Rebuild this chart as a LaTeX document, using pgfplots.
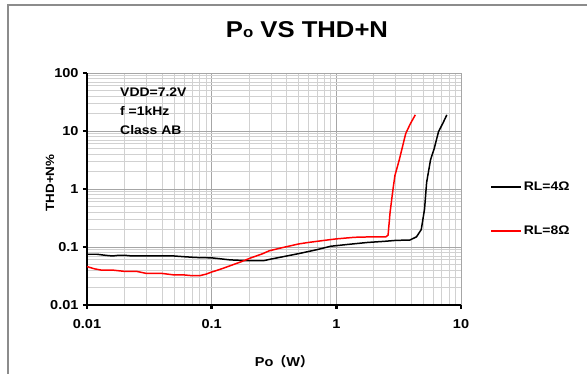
\documentclass[border=0pt]{standalone}
\usepackage{pgfplots}
\pgfplotsset{compat=1.18}
\usepackage{fontspec}
\setmainfont{Liberation Sans}[FakeStretch=1.12]
\newfontfamily\cjk{Noto Sans CJK SC}
\begin{document}
\begin{tikzpicture}
\begin{axis}[
  at={(0,0)}, anchor=south west,
  scale only axis, width=374bp, height=232bp,
  xmode=log, ymode=log,
  xmin=0.01, xmax=10, ymin=0.01, ymax=100,
  axis x line*=bottom, axis y line*=left,
  axis line style={line width=2.5pt, -},
  xtick={0.01,0.1,1,10}, xticklabels={0.01,0.1,1,10},
  ytick={0.01,0.1,1,10,100}, yticklabels={0.01,0.1,1,10,100},
  minor xtick={0.02,0.03,0.04,0.05,0.06,0.07,0.08,0.09,0.2,0.3,0.4,0.5,0.6,0.7,0.8,0.9,2,3,4,5,6,7,8,9},
  minor ytick={0.02,0.03,0.04,0.05,0.06,0.07,0.08,0.09,0.2,0.3,0.4,0.5,0.6,0.7,0.8,0.9,2,3,4,5,6,7,8,9,20,30,40,50,60,70,80,90},
  tick align=outside, major tick length=4bp, minor tick length=0pt,
  tick style={line width=2.5pt, black},
  grid=both,
  major grid style={black!35, line width=0.8pt},
  minor grid style={black!18, line width=0.8pt},
  ticklabel style={font=\fontsize{13}{14}\selectfont\bfseries},
  xticklabel style={yshift=-7bp},
  yticklabel style={xshift=-1bp},
  legend style={at={(1.07,0.414)}, anchor=west, draw=none, fill=none,
    font=\fontsize{12.5}{14}\selectfont\bfseries, row sep=30bp},
  legend cell align=left,
  legend image code/.code={\draw[#1, line width=1.5pt] (0bp,0bp) -- (30bp,0bp);},
  every axis plot/.append style={line width=1.5pt, line join=round},
]
\addplot[black] coordinates {
(0.01,0.075) (0.012,0.075) (0.014,0.072) (0.016,0.07) (0.018,0.072) (0.02,0.072)
(0.023,0.07) (0.03,0.07) (0.04,0.07) (0.05,0.07) (0.06,0.068) (0.075,0.066)
(0.1,0.065) (0.14,0.06) (0.2,0.058) (0.26,0.058) (0.3,0.062) (0.4,0.07)
(0.5,0.077) (0.7,0.09) (0.9,0.103) (1.2,0.11) (1.8,0.12) (2.4,0.125)
(3.0,0.13) (3.9,0.132) (4.4,0.15) (4.8,0.2) (5.1,0.45) (5.3,1.3)
(5.7,3.2) (6.1,5) (6.6,9.7) (7.2,14) (7.7,19)
};
\addlegendentry{RL=4Ω}
\addplot[red] coordinates {
(0.01,0.046) (0.0115,0.042) (0.013,0.040) (0.016,0.040) (0.02,0.038) (0.025,0.038)
(0.03,0.035) (0.04,0.035) (0.05,0.033) (0.06,0.033) (0.07,0.032) (0.08,0.032)
(0.09,0.034) (0.1,0.037) (0.12,0.042) (0.15,0.05) (0.17,0.055) (0.21,0.066)
(0.25,0.075) (0.29,0.086) (0.35,0.095) (0.5,0.113) (0.6,0.12) (0.8,0.13)
(1.0,0.138) (1.4,0.147) (2.0,0.15) (2.5,0.15) (2.6,0.16) (2.7,0.4)
(2.85,1.0) (2.95,1.7) (3.2,3.2) (3.6,9) (3.9,13) (4.3,19)
};
\addlegendentry{RL=8Ω}
\end{axis}
\node[anchor=west, align=left, inner sep=0pt, font=\fontsize{12.5}{19}\selectfont\bfseries] at (33bp,194bp) {VDD=7.2V\\f =1kHz\\Class AB};
\node at (220bp,275bp) {\fontsize{23}{25}\selectfont\bfseries P{\fontsize{15}{15}\selectfont o} VS THD+N};
\node[rotate=90, font=\fontsize{12}{14}\selectfont\bfseries] at (-37bp,122bp) {THD+N\%};
\node[font=\fontsize{13}{14}\selectfont\bfseries] at (197bp,-57bp) {Po{\cjk （}W{\cjk ）}};
\draw[black!45, line width=1.5bp] (-79bp,-69bp) -- (-79bp,300bp) -- (500bp,300bp);
\pgfresetboundingbox
\useasboundingbox (-87bp,-69bp) rectangle (500bp,305bp);
\end{tikzpicture}
\end{document}
